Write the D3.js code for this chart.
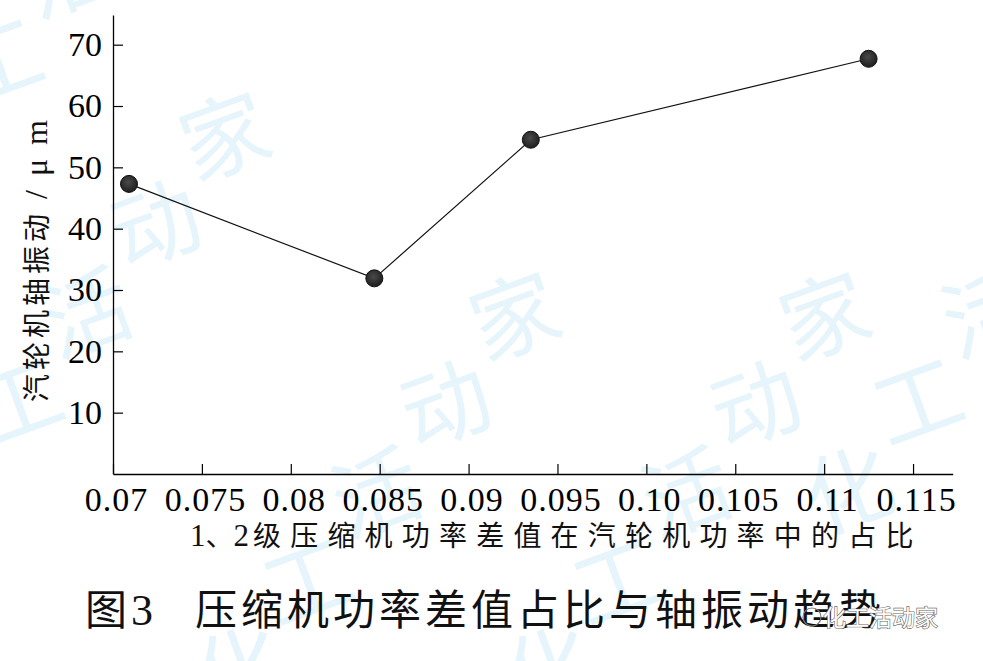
<!DOCTYPE html>
<html><head><meta charset="utf-8">
<script src="https://cdn.jsdelivr.net/npm/d3@7"></script>
<style>
body{margin:0;background:#fff;}
svg{display:block;}
</style></head>
<body>
<svg id="chart" width="983" height="661"></svg>
<script>
// ---- data ----
const ratios = [0.0709, 0.0847, 0.0935, 0.1125];
const vibration = [47.3, 31.9, 54.5, 67.7];
const xTicks = [0.07, 0.075, 0.08, 0.085, 0.09, 0.095, 0.10, 0.105, 0.11, 0.115];
const xTickLabels = ["0.07","0.075","0.08","0.085","0.09","0.095","0.10","0.105","0.11","0.115"];
const yTicks = [10, 20, 30, 40, 50, 60, 70];
const xTitleParts = ["1", "、", "2", "级压缩机功率差值在汽轮机功率中的占比"];
const yTitleCN = "汽轮机轴振动";
const yTitleUnit = " / μ m";
const figNo = ["图", "3"];
const caption = "压缩机功率差值占比与轴振动趋势";
const watermark = "化工活动家";

const svg = d3.select("#chart");
const serif = "'Liberation Serif','DejaVu Serif',serif";
const cjk = "'Noto Sans CJK SC','Noto Sans CJK JP',sans-serif";

// faint background watermark
const wm = svg.append("g").attr("fill", "#e6f4fb").style("font-family", cjk).style("font-size", "88px");
const wmStarts = [[-40, 520], [250, 700], [560, 700], [860, 520], [-60, 180]];
wmStarts.forEach(([sx, sy]) => {
  watermark.split("").forEach((ch, i) => {
    const ang = -52 * Math.PI / 180;
    const cx = sx + i * 112 * Math.cos(ang), cy = sy + i * 112 * Math.sin(ang);
    wm.append("text").attr("transform", `translate(${cx},${cy}) rotate(-20)`)
      .attr("text-anchor", "middle").text(ch);
  });
});

const x = d3.scaleLinear().domain([0.07, 0.11723]).range([113, 952.7]);
const y = d3.scaleLinear().domain([0, 74.84]).range([474, 15]);

// x axis
const xAxis = svg.append("g").attr("transform", "translate(0,474)")
  .call(d3.axisBottom(x).tickValues(xTicks).tickFormat((d, i) => xTickLabels[i])
    .tickSizeInner(-10).tickSizeOuter(0).tickPadding(13));
xAxis.select(".domain").attr("stroke", "#000").attr("stroke-width", 1.3);
xAxis.selectAll(".tick line").attr("stroke", "#000").attr("stroke-width", 1.2);
xAxis.selectAll(".tick text").attr("fill", "#000").style("font-family", serif)
  .style("font-size", "34px").attr("dx", 3).style("letter-spacing", "1px");

// y axis
const yAxis = svg.append("g").attr("transform", "translate(113,0)")
  .call(d3.axisLeft(y).tickValues(yTicks).tickFormat(d3.format("d"))
    .tickSizeInner(-10).tickSizeOuter(0).tickPadding(11));
yAxis.select(".domain").attr("stroke", "#000").attr("stroke-width", 1.3);
yAxis.selectAll(".tick line").attr("stroke", "#000").attr("stroke-width", 1.2);
yAxis.selectAll(".tick text").attr("fill", "#000").style("font-family", serif)
  .style("font-size", "34px");

// line
const pts = ratios.map((r, i) => [r, vibration[i]]);
svg.append("path").datum(pts)
  .attr("d", d3.line().x(d => x(d[0])).y(d => y(d[1])))
  .attr("fill", "none").attr("stroke", "#111").attr("stroke-width", 1.2);

// markers
const defs = svg.append("defs");
const grad = defs.append("radialGradient").attr("id", "mk").attr("cx", "45%").attr("cy", "40%").attr("r", "60%");
grad.append("stop").attr("offset", "0%").attr("stop-color", "#4a4a4a");
grad.append("stop").attr("offset", "100%").attr("stop-color", "#1e1e1e");
svg.append("g").selectAll("circle").data(pts).join("circle")
  .attr("cx", d => x(d[0])).attr("cy", d => y(d[1])).attr("r", 8.5)
  .attr("fill", "url(#mk)").attr("stroke", "#111").attr("stroke-width", 1);

// x title
const xt = svg.append("text").attr("x", 190).attr("y", 546)
  .style("font-size", "28px").attr("fill", "#111");
xt.append("tspan").style("font-family", serif).style("font-size", "31px").text(xTitleParts[0]);
xt.append("tspan").style("font-family", cjk).text(xTitleParts[1]);
xt.append("tspan").style("font-family", serif).style("font-size", "31px").text(xTitleParts[2]);
xt.append("tspan").attr("dx", 4).style("font-family", cjk).style("letter-spacing", "9.2px").text(xTitleParts[3]);

// y title
const yt = svg.append("text").attr("transform", "translate(47,402) rotate(-90)")
  .style("font-size", "28px").attr("fill", "#111");
yt.append("tspan").style("font-family", cjk).style("letter-spacing", "4px").text(yTitleCN);
yt.append("tspan").style("font-family", serif).style("font-size", "32px")
  .style("white-space", "pre").style("letter-spacing", "3px").text(yTitleUnit);

// caption
const cap = svg.append("text").attr("x", 85).attr("y", 625).attr("fill", "#111");
cap.append("tspan").style("font-family", cjk).style("font-size", "42px").text(figNo[0]);
cap.append("tspan").attr("dx", 4).style("font-family", serif).style("font-size", "44px").text(figNo[1]);
svg.append("text").attr("x", 195).attr("y", 625)
  .style("font-family", cjk).style("font-size", "42px").style("letter-spacing", "4px")
  .attr("fill", "#111").text(caption);

// corner watermark
svg.append("circle").attr("cx", 812).attr("cy", 617).attr("r", 9)
  .attr("fill", "none").attr("stroke", "#777").attr("stroke-width", 1.2);
svg.append("text").attr("x", 823).attr("y", 626)
  .style("font-family", cjk).style("font-size", "23px")
  .attr("fill", "#fff").attr("stroke", "#666").attr("stroke-width", 1.2)
  .style("paint-order", "stroke").text(watermark);
</script>
</body></html>
